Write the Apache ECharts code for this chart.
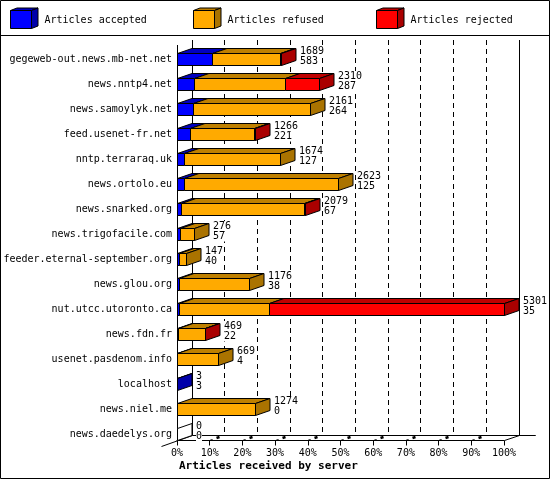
<!DOCTYPE html>
<html><head><meta charset="utf-8">
<style>html,body{margin:0;padding:0;background:#fff}#c{width:550px;height:480px}</style>
<script src="https://cdn.jsdelivr.net/npm/echarts@6/dist/echarts.min.js"></script>
</head><body><div id="c"></div>
<script>
const servers = ['gegeweb-out.news.mb-net.net','news.nntp4.net','news.samoylyk.net','feed.usenet-fr.net','nntp.terraraq.uk','news.ortolo.eu','news.snarked.org','news.trigofacile.com','feeder.eternal-september.org','news.glou.org','nut.utcc.utoronto.ca','news.fdn.fr','usenet.pasdenom.info','localhost','news.niel.me','news.daedelys.org'];
const totals   = [1689,2310,2161,1266,1674,2623,2079,276,147,1176,5301,469,669,3,1274,0];
const accepted = [583,287,264,221,127,125,67,57,40,38,35,22,4,3,0,0];
const refused  = [1091,1478,1897,1033,1547,2498,2007,219,107,1138,1461,437,665,0,1274,0];
const rejected = [15,545,0,12,0,0,5,0,0,0,3805,10,0,0,0,0];
const percentTicks = [0,10,20,30,40,50,60,70,80,90,100];
const legendNames = ['Articles accepted','Articles refused','Articles rejected'];

const FRONT = ['#0000ff','#ffaa00','#ff0000'];
const TOP   = ['#0000c0','#bf8000','#bf0000'];
const SIDE  = ['#0000aa','#aa7300','#aa0000'];
const DX = 14.5, DY = 5, HALF = 6;
const FONT = '10px "DejaVu Sans Mono"';
const maxTotal = Math.max.apply(null, totals);
const pct = v => v / maxTotal * 100;
const snap = v => Math.round(v - 0.5) + 0.5;
const poly = (points, fill, z2) => ({type:'polygon', z2:z2||1, shape:{points}, style:{fill, stroke:'#000', lineWidth:1}});
const seg = (x1,y1,x2,y2,w,dash) => ({type:'line', shape:{x1,y1,x2,y2}, style:{stroke:'#000', lineWidth:w||1, lineDash:dash||null, fill:null}});

function renderFrame(params, api) {
  const p = api.value(0);
  const x = snap(api.coord([p, 15])[0]);
  const yFloor = api.coord([p, 15])[1] + HALF + 0.5;
  const xb = snap(x + DX), yb = yFloor - DY, yTop = 40;
  const kids = [];
  const solid = p === 0 || p === 100;
  kids.push(seg(xb, yTop, xb, yb, 1, solid ? null : [5,4]));
  if (p === 100) {
    kids.push(seg(x, yFloor, xb, yb));
    kids.push(seg(xb, yb, 535.5, yb));
  } else if (p === 0) {
    kids.push(seg(x-16, yFloor+6, xb, yb));
    kids.push(seg(x, 45, x, yFloor));
    kids.push(seg(xb, yb, 535.5, yb));
  } else {
    kids.push(seg(x, yFloor, x+3, yFloor-1));
    kids.push(seg(x+7, yFloor-2.5, x+10, yFloor-3.5, 2.5));
  }
  return {type:'group', children:kids};
}

function renderBar(params, api) {
  const row = api.value(0);
  const vals = [api.value(1), api.value(2), api.value(3)];
  const total = api.value(4);
  const c = api.coord([0, row]);
  const yt = c[1] - HALF + 0.5, yb = c[1] + HALF + 0.5;
  const kids = [];
  let cum = 0, last = -1, x0 = snap(c[0]);
  vals.forEach((v, i) => {
    if (v <= 0) return;
    cum += v;
    const x1 = snap(api.coord([pct(cum), row])[0]);
    kids.push(poly([[x0,yt],[x1,yt],[x1+DX,yt-DY],[x0+DX,yt-DY]], TOP[i]));
    kids.push(poly([[x0,yt],[x1,yt],[x1,yb],[x0,yb]], FRONT[i]));
    x0 = x1; last = i;
  });
  const sideFill = last < 0 ? '#fff' : SIDE[last];
  kids.push(poly([[x0,yt],[x0+DX,yt-DY],[x0+DX,yb-DY],[x0,yb]], sideFill));
  const lx = x0 + DX + 4;
  const textEl = (t, y) => ({type:'text', z2:5, style:{text:String(t), x:lx, y:y, font:FONT, fill:'#000', verticalAlign:'middle', align:'left', backgroundColor:'#fff'}});
  kids.push(textEl(total, c[1]-8));
  kids.push(textEl(vals[0], c[1]+2.5));
  return {type:'group', children:kids};
}

const rows = servers.map((s,i)=>[i, accepted[i], refused[i], rejected[i], totals[i]]);

function legendBox(x, i) {
  const l=x+.5, r=x+21.5, t=10.5, b=28.5, d=6.5, u=2.5;
  const mk=(pts,fill)=>({type:'polygon', shape:{points:pts}, style:{fill, stroke:'#000', lineWidth:1}});
  return [
    mk([[l,t],[r,t],[r+d,t-u],[l+d,t-u]],TOP[i]),
    mk([[r,t],[r+d,t-u],[r+d,b-u],[r,b]],SIDE[i]),
    mk([[l,t],[r,t],[r,b],[l,b]],FRONT[i]),
    {type:'text', style:{text:legendNames[i], x:x+34.5, y:20, font:FONT, fill:'#000', verticalAlign:'middle'}}
  ];
}

const chart = echarts.init(document.getElementById('c'), null, {renderer:'canvas', width:550, height:480});
chart.setOption({
  animation:false,
  backgroundColor:'#fff',
  title:{text:'Articles received by server', left:179, top:461, padding:0,
    textStyle:{fontFamily:'DejaVu Sans Mono', fontWeight:'bold', fontSize:11, color:'#000'}},
  grid:{left:177, width:327, top:46.5, height:400, containLabel:false},
  xAxis:{type:'value', min:0, max:100, interval:10, position:'bottom', offset:-6,
    axisLine:{show:true, lineStyle:{color:'#000', width:1}},
    axisTick:{show:true, length:5, lineStyle:{color:'#000', width:1}},
    splitLine:{show:false},
    axisLabel:{formatter:'{value}%', margin:8, fontFamily:'DejaVu Sans Mono', fontSize:10, color:'#000', hideOverlap:false, showMinLabel:true, showMaxLabel:true}},
  yAxis:{type:'category', data:servers, inverse:true,
    axisLine:{show:false}, axisTick:{show:false}, splitLine:{show:false},
    axisLabel:{interval:0, margin:5, align:'right', fontFamily:'DejaVu Sans Mono', fontSize:10, color:'#000'}},
  graphic:[
    {type:'rect', silent:true, z:0, shape:{x:0.5,y:0.5,width:549,height:478}, style:{fill:null,stroke:'#000',lineWidth:1}},
    {type:'line', silent:true, shape:{x1:0,y1:35.5,x2:550,y2:35.5}, style:{stroke:'#000',lineWidth:1}},
    {type:'group', silent:true, children:[].concat(legendBox(10,0),legendBox(193,1),legendBox(376,2))}
  ],
  series:[
    {type:'custom', silent:true, clip:false, z:1, data:percentTicks.map(p=>[p,15]), encode:{x:0,y:1}, renderItem:renderFrame},
    {type:'custom', silent:true, clip:false, z:2, data:rows, encode:{y:0,x:1}, renderItem:renderBar}
  ]
});
</script></body></html>
